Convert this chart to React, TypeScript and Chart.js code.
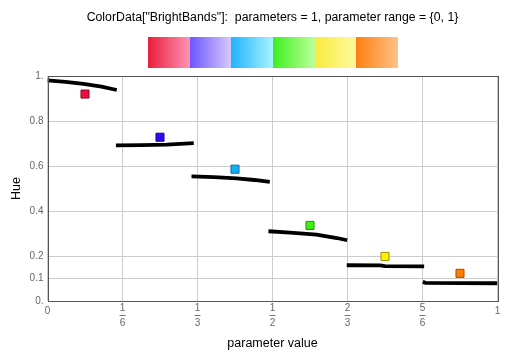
import React, { useEffect, useRef } from "react";
import { Chart, registerables } from "chart.js";

Chart.register(...registerables);

const FONT = "'Liberation Sans', Arial, sans-serif";

const titleText = 'ColorData["BrightBands"]:  parameters = 1, parameter range = {0, 1}';
const xTitle = "parameter value";
const yTitle = "Hue";

const xTickValues = [0, 1 / 6, 1 / 3, 1 / 2, 2 / 3, 5 / 6, 1];
const xTickNumerators = ["0", "1", "1", "1", "2", "5", "1"];
const xTickDenominators = ["", "6", "3", "2", "3", "6", ""];
const yTickValues = [0, 0.1, 0.2, 0.4, 0.6, 0.8, 1];
const yTickLabels = ["0.", "0.1", "0.2", "0.4", "0.6", "0.8", "1."];

// hue curves, one per band
const seg1X = [0, 0.04, 0.08, 0.12, 0.154];
const seg1Y = [0.981, 0.974, 0.965, 0.953, 0.938];
const seg2X = [0.152, 0.21, 0.265, 0.325];
const seg2Y = [0.692, 0.693, 0.695, 0.702];
const seg3X = [0.32, 0.37, 0.42, 0.46, 0.494];
const seg3Y = [0.554, 0.551, 0.545, 0.538, 0.53];
const seg4X = [0.491, 0.539, 0.598, 0.643, 0.666];
const seg4Y = [0.31, 0.304, 0.295, 0.28, 0.27];
const seg5X = [0.665, 0.74, 0.75, 0.837];
const seg5Y = [0.159, 0.158, 0.155, 0.154];
const seg6X = [0.834, 0.84, 1];
const seg6Y = [0.085, 0.081, 0.079];

const segXs = [seg1X, seg2X, seg3X, seg4X, seg5X, seg6X];
const segYs = [seg1Y, seg2Y, seg3Y, seg4Y, seg5Y, seg6Y];

// coloured markers
const markerX = [1 / 12, 3 / 12, 5 / 12, 7 / 12, 9 / 12, 11 / 12];
const markerY = [0.92, 0.728, 0.586, 0.336, 0.198, 0.123];
const markerFill = ["#ec0f3e", "#2a0ef0", "#14b0f6", "#3cf010", "#fff200", "#ff7d00"];
const markerEdge = ["#8c0a24", "#1a0890", "#0a6a96", "#229010", "#9a9000", "#a04e00"];

// colour bar bands
const bandStart = ["#e81e3c", "#6c55ff", "#20b4ff", "#3cf020", "#f8ea3c", "#ff8010"];
const bandEnd = ["#ff92b4", "#d8cafa", "#a8f2ff", "#bcff98", "#fffaa0", "#ffc288"];

const decorPlugin = {
  id: "decor",
  afterLayout(chart: any) {
    const tb = chart.titleBlock;
    const a = chart.chartArea;
    if (tb && a) {
      tb.left = a.left;
      tb.right = a.right;
      tb.width = a.right - a.left;
    }
  },
  afterDraw(chart: any) {
    const { ctx, chartArea: a, scales } = chart;
    ctx.save();
    // frame
    ctx.strokeStyle = "#555555";
    ctx.lineWidth = 1;
    ctx.strokeRect(Math.round(a.left) + 0.5, Math.round(a.top) + 0.5, Math.round(a.right - a.left), Math.round(a.bottom - a.top));
    // fraction bars
    const xs = scales.x;
    ctx.strokeStyle = "#777777";
    xTickValues.forEach((v, i) => {
      if (!xTickDenominators[i]) return;
      const px = xs.getPixelForValue(v);
      const y = Math.round(a.bottom + 14) + 0.5;
      ctx.beginPath();
      ctx.moveTo(px - 3, y);
      ctx.lineTo(px + 3, y);
      ctx.stroke();
    });
    // colour bar
    const cx = (a.left + a.right) / 2;
    const w = 250;
    const bw = w / bandStart.length;
    const x0 = Math.round(cx - w / 2);
    const y0 = Math.round(a.top - 39);
    const h = 31;
    bandStart.forEach((c, i) => {
      const bx = x0 + i * bw;
      const g = ctx.createLinearGradient(bx, 0, bx + bw, 0);
      g.addColorStop(0, c);
      g.addColorStop(1, bandEnd[i]);
      ctx.fillStyle = g;
      ctx.fillRect(Math.round(bx), y0, Math.round(bx + bw) - Math.round(bx), h);
    });
    ctx.restore();
  },
};

export default function App() {
  const ref = useRef<HTMLCanvasElement>(null);
  useEffect(() => {
    if (!ref.current) return;
    const lineSets = segXs.map((xs, k) => ({
      type: "line" as const,
      data: xs.map((x, i) => ({ x, y: segYs[k][i] })),
      borderColor: "#000000",
      borderWidth: 3.8,
      pointRadius: 0,
      fill: false,
      tension: 0,
      order: 2,
    }));
    const markerSet = {
      type: "scatter" as const,
      data: markerX.map((x, i) => ({ x, y: markerY[i] })),
      pointStyle: "rect",
      pointRadius: 5.7,
      pointBackgroundColor: markerFill,
      pointBorderColor: markerEdge,
      pointBorderWidth: 1,
      showLine: false,
      order: 1,
    };
    const chart = new Chart(ref.current, {
      type: "line",
      data: { datasets: [...lineSets, markerSet] as any },
      options: {
        animation: false,
        responsive: false,
        devicePixelRatio: 1,
        layout: { padding: { top: 0, right: 16.5, left: 0, bottom: 0 } },
        plugins: {
          legend: { display: false },
          tooltip: { enabled: false },
          title: {
            display: true,
            text: titleText,
            color: "#000000",
            font: { family: FONT, size: 12.3, weight: "normal" },
            padding: { top: 10, bottom: 51.3 },
          },
        },
        scales: {
          x: {
            type: "linear",
            min: 0,
            max: 1,
            afterBuildTicks: (s: any) => {
              s.ticks = xTickValues.map((v) => ({ value: v }));
            },
            afterFit: (s: any) => {
              s.height = 58;
            },
            grid: { color: "#cccccc", drawTicks: false },
            border: { display: false },
            ticks: {
              autoSkip: false,
              maxRotation: 0,
              minRotation: 0,
              padding: 0,
              crossAlign: "near",
              color: "#666666",
              font: (c: any) => ({
                family: FONT,
                size: 10,
                lineHeight: xTickDenominators[c.index] ? "15px" : "20px",
              }),
              callback: (_v: any, i: number) =>
                xTickDenominators[i] ? [xTickNumerators[i], xTickDenominators[i]] : xTickNumerators[i],
            },
            title: {
              display: true,
              text: xTitle,
              color: "#000000",
              font: { family: FONT, size: 12.5 },
              padding: { top: 0, bottom: 7.5 },
            },
          },
          y: {
            type: "linear",
            min: 0,
            max: 1,
            afterBuildTicks: (s: any) => {
              s.ticks = yTickValues.map((v) => ({ value: v }));
            },
            afterFit: (s: any) => {
              s.width = 47.5;
            },
            grid: { color: "#cccccc", drawTicks: false },
            border: { display: false },
            ticks: {
              autoSkip: false,
              padding: 4,
              color: "#666666",
              font: { family: FONT, size: 10 },
              callback: (_v: any, i: number) => yTickLabels[i],
            },
            title: {
              display: true,
              text: yTitle,
              color: "#000000",
              font: { family: FONT, size: 12.5 },
              padding: { top: 9, bottom: 0 },
            },
          },
        },
      },
      plugins: [decorPlugin],
    } as any);
    return () => chart.destroy();
  }, []);
  return (
    <div style={{ position: "absolute", left: 0, top: 0, width: 514, height: 359, background: "#ffffff" }}>
      <canvas ref={ref} width={514} height={359} style={{ width: 514, height: 359 }} />
    </div>
  );
}
